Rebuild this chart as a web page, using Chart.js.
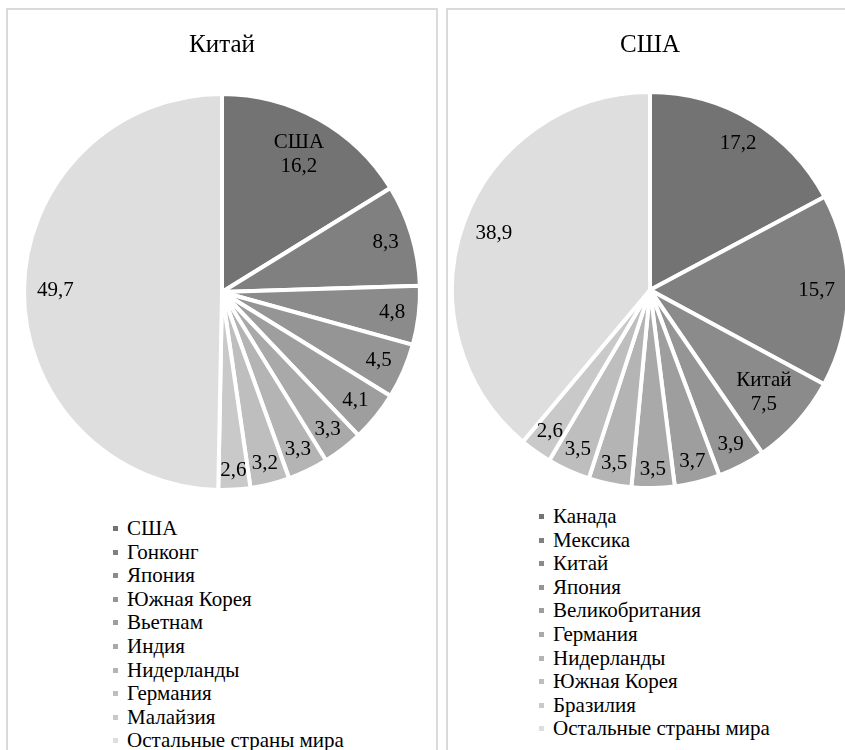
<!DOCTYPE html>
<html lang="en">
  <head>
    <meta charset="UTF-8" />
    <title>Китай / США</title>
    <script src="https://cdn.jsdelivr.net/npm/chart.js"></script>
    <style>
      html, body { margin: 0; padding: 0; overflow: hidden; background: #fff; }
      body { width: 845px; height: 750px; position: relative; font-family: 'Times New Roman', serif; }
      .box { position: absolute; top: 8px; height: 800px; border: 2px solid #dadada; border-bottom: none; }
      .chart { position: absolute; top: 10px; height: 490px; }
      ul.legend { position: absolute; list-style: none; margin: 0; padding: 0; font-family: 'Times New Roman', serif; font-size: 21px; line-height: 23.6px; color: #000; }
      ul.legend li { position: relative; padding-left: 14px; white-space: nowrap; }
      ul.legend li span { position: absolute; left: 0; top: 9px; width: 5px; height: 5px; }
    </style>
  </head>
  <body>
    <div class="box" style="left: 6px; width: 428px"></div>
    <div class="box" style="left: 446px; width: 420px"></div>

    <div class="chart" style="left: 10px; width: 424px"><canvas id="chinaChart"></canvas></div>
    <div class="chart" style="left: 449px; width: 402px"><canvas id="usaChart"></canvas></div>

    <ul class="legend" id="chinaLegend" style="left: 113px; top: 517px"></ul>
    <ul class="legend" id="usaLegend" style="left: 539px; top: 505px"></ul>

    <script>
      // данные
      const chinaLabels = ["США", "Гонконг", "Япония", "Южная Корея", "Вьетнам", "Индия", "Нидерланды", "Германия", "Малайзия", "Остальные страны мира"];
      const chinaValues = [16.2, 8.3, 4.8, 4.5, 4.1, 3.3, 3.3, 3.2, 2.6, 49.7];

      const usaLabels = ["Канада", "Мексика", "Китай", "Япония", "Великобритания", "Германия", "Нидерланды", "Южная Корея", "Бразилия", "Остальные страны мира"];
      const usaValues = [17.2, 15.7, 7.5, 3.9, 3.7, 3.5, 3.5, 3.5, 2.6, 38.9];

      // какой сектор подписан ещё и названием
      const chinaNamed = 0;
      const usaNamed = 2;

      const grays = ["#737373", "#808080", "#8b8b8b", "#959595", "#9e9e9e", "#a9a9a9", "#b4b4b4", "#bebebe", "#c9c9c9", "#dedede"];

      const FONT = "'Times New Roman', serif";

      // подписи внутри секторов (у внешнего края)
      const sliceLabels = {
        id: "sliceLabels",
        afterDatasetsDraw(chart, args, opts) {
          const ctx = chart.ctx;
          const meta = chart.getDatasetMeta(0);
          const values = chart.data.datasets[0].data;
          const lineH = 24;
          ctx.save();
          ctx.font = "21px " + FONT;
          ctx.fillStyle = "#000";
          ctx.textAlign = "center";
          ctx.textBaseline = "middle";
          meta.data.forEach((arc, i) => {
            const p = arc.getProps(["x", "y", "startAngle", "endAngle", "outerRadius"], true);
            const mid = (p.startAngle + p.endAngle) / 2;
            const dx = Math.cos(mid);
            const dy = Math.sin(mid);
            const lines = [];
            if (i === opts.named) lines.push(chart.data.labels[i]);
            lines.push(values[i].toFixed(1).replace(".", ","));
            const w = Math.max(...lines.map((t) => ctx.measureText(t).width));
            const hh = (lines.length * lineH) / 2 - 7;
            const dist = p.outerRadius - 2 - 11 - Math.abs(dx) * w / 2 - Math.abs(dy) * hh;
            const cx = p.x + dx * dist;
            const cy = p.y + dy * dist - ((lines.length - 1) * lineH) / 2;
            lines.forEach((t, k) => ctx.fillText(t, cx, cy + k * lineH));
          });
          ctx.restore();
        },
      };

      function drawLegend(tag, labels) {
        const ul = document.getElementById(tag);
        labels.forEach((name, i) => {
          const li = document.createElement("li");
          const box = document.createElement("span");
          box.style.background = grays[i];
          li.appendChild(box);
          li.appendChild(document.createTextNode(name));
          ul.appendChild(li);
        });
      }

      function drawChart(tag, title, labels, values, named, padBottom) {
        const ctx = document.getElementById(tag);
        new Chart(ctx, {
          type: "pie",
          data: {
            labels: labels,
            datasets: [
              {
                data: values,
                backgroundColor: grays,
                borderColor: "#ffffff",
                borderWidth: 4,
                radius: 198,
              },
            ],
          },
          options: {
            responsive: true,
            maintainAspectRatio: false,
            animation: false,
            layout: { padding: { top: 0, bottom: padBottom, left: 0, right: 0 } },
            plugins: {
              legend: { display: false },
              tooltip: { enabled: false },
              title: {
                display: true,
                text: title,
                color: "#000",
                font: { family: FONT, size: 25, weight: "normal", lineHeight: 1.2 },
                padding: { top: 20, bottom: 36 },
              },
              sliceLabels: { named: named },
            },
          },
          plugins: [sliceLabels],
        });
      }

      drawChart("chinaChart", "Китай", chinaLabels, chinaValues, chinaNamed, 12);
      drawChart("usaChart", "США", usaLabels, usaValues, usaNamed, 16);
      drawLegend("chinaLegend", chinaLabels);
      drawLegend("usaLegend", usaLabels);
    </script>
  </body>
</html>
